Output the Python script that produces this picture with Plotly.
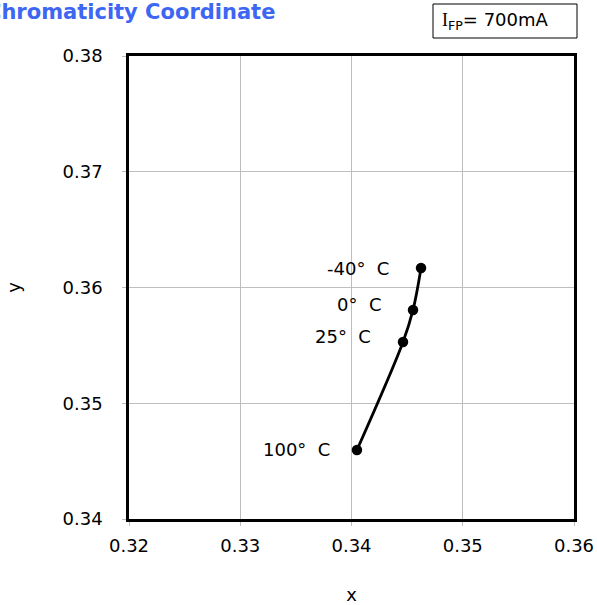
import plotly.graph_objects as go

# chromaticity coordinates vs ambient temperature
temps = ['-40°  C', '0°  C', '25°  C', '100°  C']
cie_x = [0.34625, 0.34553, 0.34463, 0.34049]
cie_y = [0.36168, 0.35806, 0.35529, 0.34596]

x_ticks = [0.32, 0.33, 0.34, 0.35, 0.36]
y_ticks = [0.34, 0.35, 0.36, 0.37, 0.38]

W, H = 597, 605
ML, MR, MT, MB = 129, 23, 56, 86
pw, ph = W - ML - MR, H - MT - MB


def px_x(p):
    return (p - ML) / pw


def px_y(p):
    return (H - MB - p) / ph


fig = go.Figure()
fig.add_trace(go.Scatter(
    x=cie_x, y=cie_y,
    mode='lines+markers',
    line=dict(color='black', width=2.8, shape='spline'),
    marker=dict(color='black', size=10.5),
    showlegend=False,
    hoverinfo='skip'
))

# temperature labels to the left of each point
yshift = [0, 5, 6, 1]
xshift = [-30, -30, -30, -25]
for t, xv, yv, dx, dy in zip(temps, cie_x, cie_y, xshift, yshift):
    fig.add_annotation(x=xv, y=yv, text=t, showarrow=False,
                       xanchor='right', yanchor='middle',
                       xshift=dx, yshift=dy,
                       font=dict(size=18, color='black'))

# cut-off title at the top-left
fig.add_annotation(xref='paper', yref='paper', x=px_x(277), y=px_y(12),
                   xanchor='right', yanchor='middle', showarrow=False,
                   text='<b>Chromaticity Coordinate</b>',
                   font=dict(size=21, color='#3D66F2'))

# current box
fig.add_shape(type='rect', xref='paper', yref='paper',
              x0=px_x(433), x1=px_x(577), y0=px_y(38), y1=px_y(4),
              line=dict(color='black', width=1), fillcolor='white')
fig.add_annotation(xref='paper', yref='paper', x=px_x(440), y=px_y(21),
                   xanchor='left', yanchor='middle', showarrow=False,
                   text="<span style='font-family:Liberation Serif'>I</span><sub>FP</sub>= 700mA",
                   font=dict(size=18, color='black'))

axis_common = dict(
    showgrid=True, gridcolor='#BEBEBE', gridwidth=1,
    showline=True, linecolor='black', linewidth=2.5, mirror=True,
    ticks='outside', ticklen=4, tickcolor='#BEBEBE',
    tickfont=dict(size=18, color='black'),
    zeroline=False,
)

fig.update_xaxes(range=[0.32, 0.36], tickvals=x_ticks,
                 ticktext=['%.2f' % v for v in x_ticks],
                 title=dict(text='x', standoff=36, font=dict(size=18)),
                 ticklabelstandoff=5, **axis_common)
fig.update_yaxes(range=[0.34, 0.38], tickvals=y_ticks,
                 ticktext=['%.2f' % v for v in y_ticks],
                 title=dict(text='y', standoff=38, font=dict(size=18)),
                 ticklabelstandoff=16, **axis_common)

fig.update_layout(
    width=W, height=H,
    margin=dict(l=ML, r=MR, t=MT, b=MB, autoexpand=False),
    paper_bgcolor='white', plot_bgcolor='white',
    font=dict(family='DejaVu Sans', color='black'),
)

# drop the default page margin so the figure sits at the window's corner
fig.write_html('out.html', config={'displayModeBar': False},
               post_script="document.body.style.margin='0px';")
